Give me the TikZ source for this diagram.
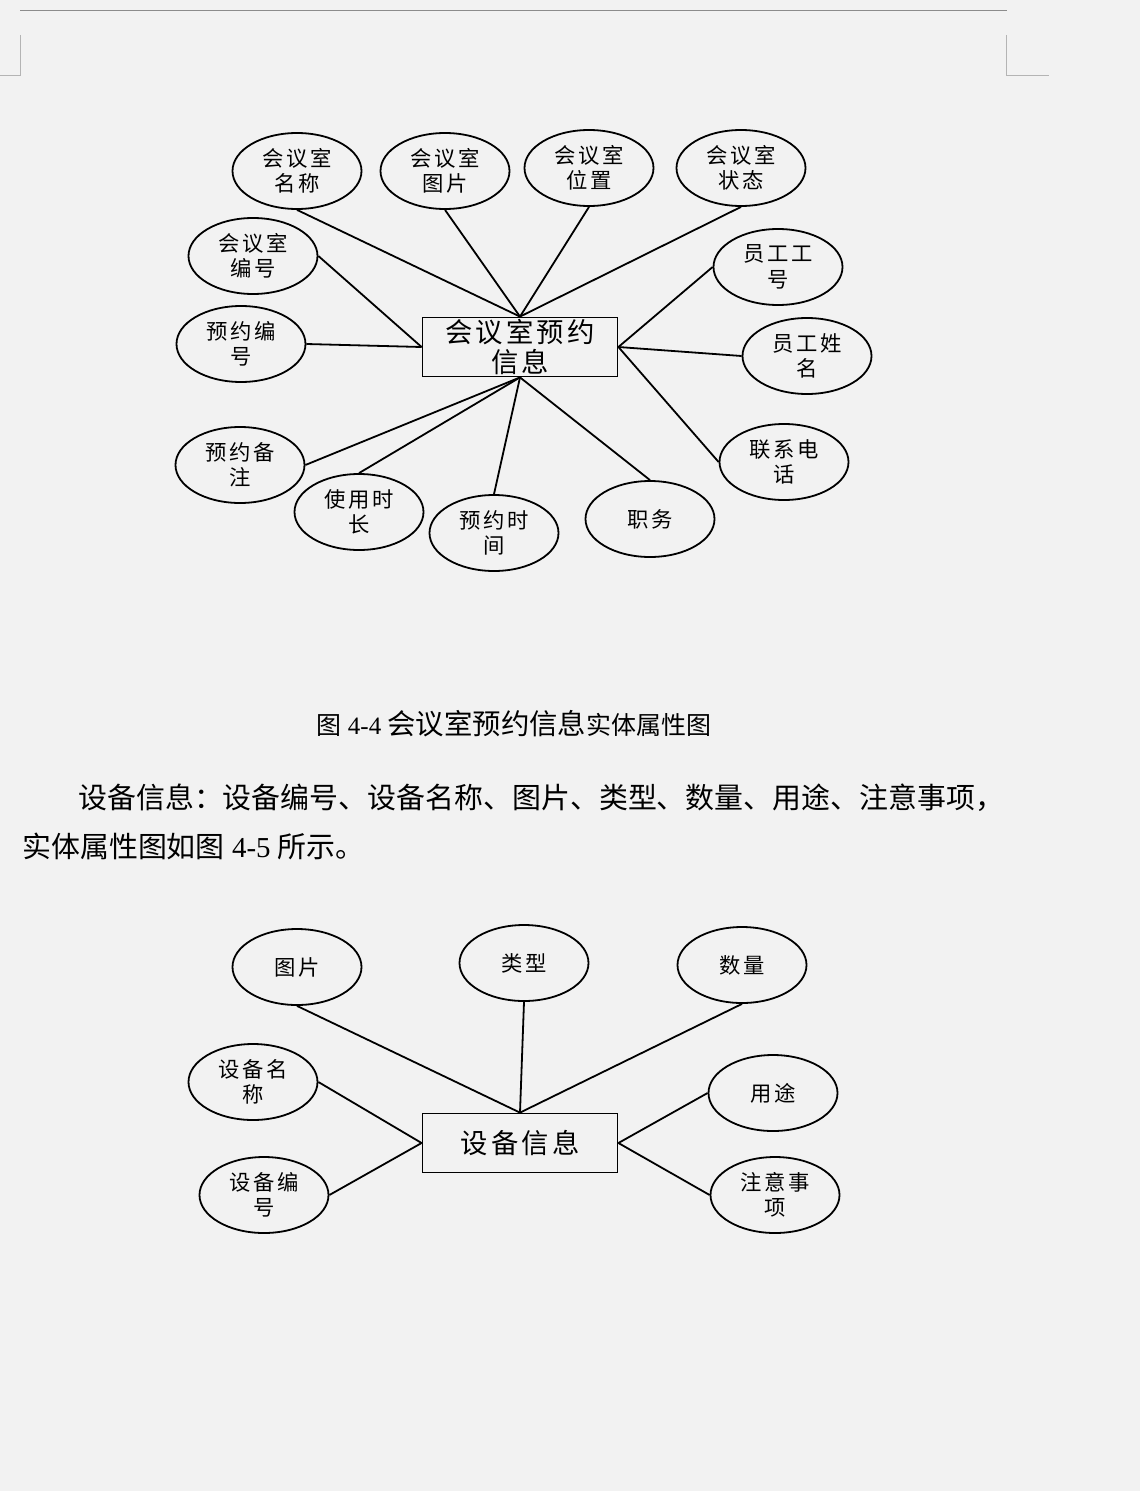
\documentclass[tikz,border=0pt]{standalone}
\usepackage{fontspec}
\setmainfont{Liberation Serif}
\newfontfamily\cjk{Noto Sans CJK SC}
\newfontfamily\cjkwide[LetterSpace=12]{Noto Sans CJK SC}
\usepackage{tikz}
\usetikzlibrary{shapes.geometric}
\definecolor{pagegray}{HTML}{F2F2F2}
\definecolor{rulegray}{HTML}{8C8C8C}
\definecolor{markgray}{HTML}{B4B4B4}
\tikzset{
  every node/.style={
    font=\cjk
  },
  attribute/.style={
    shape=ellipse,
    draw=black,
    line width=1.35pt,
    minimum width=96.75pt,
    minimum height=57pt,
    inner sep=0pt,
    align=center,
    font=\cjkwide\fontsize{16}{19}\selectfont
  },
  entity/.style={
    shape=rectangle,
    draw=black,
    line width=1.35pt,
    minimum width=146.25pt,
    minimum height=44.25pt,
    inner sep=0pt,
    align=center,
    font=\cjkwide\fontsize{20.5}{22}\selectfont
  },
  link/.style={
    draw=black,
    line width=1.35pt
  },
  bodytext/.style={
    anchor=west,
    inner sep=0pt,
    font=\rmfamily\fontsize{21.7}{26}\selectfont
  }
}

\begin{document}
\begin{tikzpicture}[x=0.75pt,y=-0.75pt]
  \fill [pagegray] (0,0) rectangle (1140,1491);
  \useasboundingbox (0,0) rectangle (1140,1491);
  % page header rule and corner marks
  \draw [rulegray, line width=1pt] (20,10.5) -- (1007,10.5);
  \draw [markgray, line width=0.75pt] (20,35) -- (20,76) -- (0,76);
  \draw [markgray, line width=0.75pt] (1006,35) -- (1006,76) -- (1049,76);

  % figure 4-4
  \node [entity] (booking) at (520,347) {会议室预约\\信息};
  \node [attribute] (roomname) at (297,171) {会议室\\名称};
  \node [attribute] (roompic) at (445,171) {会议室\\图片};
  \node [attribute] (roomloc) at (589,168) {会议室\\位置};
  \node [attribute] (roomstate) at (741,168) {会议室\\状态};
  \node [attribute] (roomno) at (253,256) {会议室\\编号};
  \node [attribute] (bookno) at (241,344) {预约编\\号};
  \node [attribute] (staffno) at (778,267) {员工工\\号};
  \node [attribute] (staffname) at (807,356) {员工姓\\名};
  \node [attribute] (phone) at (784,462) {联系电\\话};
  \node [attribute] (remark) at (240,465) {预约备\\注};
  \node [attribute] (duration) at (359,512) {使用时\\长};
  \node [attribute] (booktime) at (494,533) {预约时\\间};
  \node [attribute] (post) at (650,519) {职务};

  \foreach \a in {roomname,roompic,roomloc,roomstate}
    \draw [link] (\a.south) -- (booking.north);
  \foreach \a in {roomno,bookno}
    \draw [link] (\a.east) -- (booking.west);
  \foreach \a in {staffno,staffname,phone}
    \draw [link] (\a.west) -- (booking.east);
  \draw [link] (remark.east) -- (booking.south);
  \foreach \a in {duration,booktime,post}
    \draw [link] (\a.north) -- (booking.south);

  \node [font=\rmfamily] (caption) at (514,724) {%
    {\fontsize{18.75}{22}\selectfont{\cjk 图} 4-4 }%
    {\cjk\fontsize{21.3}{24}\selectfont 会议室预约信息}%
    {\cjk\fontsize{18.75}{22}\selectfont 实体属性图}};

  \node [bodytext] (desc1) at (78,798) {{\cjk 设备信息：设备编号、设备名称、图片、类型、数量、用途、注意事项，}};
  \node [bodytext] (desc2) at (22,846) {{\cjk 实体属性图如图} 4-5 {\cjk 所示。}};

  % figure 4-5
  \node [entity] (device) at (520,1143) {设备信息};
  \node [attribute] (devpic) at (297,967) {图片};
  \node [attribute] (devtype) at (524,963) {类型};
  \node [attribute] (devcount) at (742,965) {数量};
  \node [attribute] (devname) at (253,1082) {设备名\\称};
  \node [attribute] (devno) at (264,1195) {设备编\\号};
  \node [attribute] (devuse) at (773,1093) {用途};
  \node [attribute] (devnote) at (775,1195) {注意事\\项};

  \foreach \a in {devpic,devtype,devcount}
    \draw [link] (\a.south) -- (device.north);
  \foreach \a in {devname,devno}
    \draw [link] (\a.east) -- (device.west);
  \foreach \a in {devuse,devnote}
    \draw [link] (\a.west) -- (device.east);
\end{tikzpicture}
\end{document}
